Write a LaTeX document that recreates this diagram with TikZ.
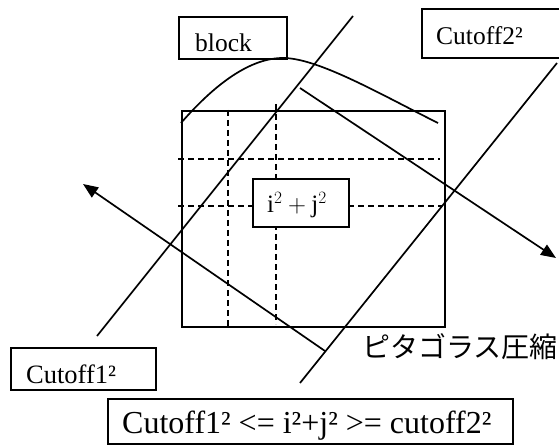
\documentclass[tikz,border=0pt]{standalone}
\usepackage{fontspec}
\setmainfont{Liberation Serif}
\newfontfamily\jpfont{Noto Sans CJK JP}
\usetikzlibrary{arrows.meta}
\tikzset{
  lab/.style={anchor=base west, inner sep=0pt, font=\fontsize{25.5}{28}\selectfont},
  boxd/.style={draw, line width=1.8pt, inner sep=0pt, anchor=north west},
  thin line/.style={line width=1.7pt},
  dsh/.style={line width=1.7pt, dash pattern=on 6pt off 4pt},
  arr/.style={line width=1.7pt, -{Triangle[length=15pt,width=12pt]}},
}
\begin{document}
\begin{tikzpicture}[x=1pt,y=-1pt]
\useasboundingbox (0,0) rectangle (559,446);
% main block rectangle
\node[boxd, line width=2pt, minimum width=263pt, minimum height=216pt] (blk) at (181,110) {};
% dashed grid
\coordinate (v1t) at (228,110); \coordinate (v1b) at (228,326);
\coordinate (v2t) at (276,104); \coordinate (v2b) at (276,324);
\coordinate (h1l) at (178,159); \coordinate (h1r) at (440,159);
\coordinate (h2l) at (178,206); \coordinate (h2r) at (442,206);
\draw[dsh] (v1t) -- (v1b);
\draw[dsh] (v2t) -- (v2b);
\draw[dsh] (h1l) -- (h1r);
\draw[dsh] (h2l) -- (h2r);
% i^2+j^2 box
\node[boxd, fill=white, minimum width=96pt, minimum height=48pt] (ij) at (252,178) {};
\node[anchor=base, inner sep=0pt, font=\fontsize{25}{28}\selectfont] (ijt) at (297,213) {$\mathrm{i}^2+\mathrm{j}^2$};
% bell curve
\coordinate (cl) at (181,123); \coordinate (cp) at (283,58); \coordinate (cr) at (438,123);
\draw[thin line] (cl) .. controls (215,84) and (250,58) .. (cp) .. controls (318,58) and (380,94) .. (cr);
% cutoff lines
\coordinate (c1a) at (97,336); \coordinate (c1b) at (353,16);
\coordinate (c2a) at (300,383); \coordinate (c2b) at (557,63);
\draw[thin line] (c1a) -- (c1b);
\draw[thin line] (c2a) -- (c2b);
% arrows
\coordinate (a1s) at (325,351); \coordinate (a1e) at (83,184);
\coordinate (a2s) at (300,88); \coordinate (a2e) at (556,258);
\draw[arr] (a1s) -- (a1e);
\draw[arr] (a2s) -- (a2e);
% label boxes
\node[boxd, minimum width=108pt, minimum height=42pt] (bb) at (178,16) {};
\node[lab] (bt) at (195,52) {block};
\node[boxd, minimum width=142pt, minimum height=49pt] (c2box) at (421,8) {};
\node[lab] (c2t) at (436,45) {Cutoff2²};
\node[boxd, minimum width=145pt, minimum height=42pt] (c1box) at (10,347) {};
\node[lab, font=\fontsize{26.5}{30}\selectfont] (c1t) at (26,383) {Cutoff1²};
\node[boxd, minimum width=405pt, minimum height=45pt] (fbox) at (107,398) {};
\node[anchor=base west, inner sep=0pt, font=\fontsize{32}{36}\selectfont] (ft) at (122,433) {Cutoff1² <= i²+j² >= cutoff2²};
% Japanese caption
\node[anchor=base west, inner sep=0pt, font=\jpfont\fontsize{28}{31}\selectfont] (jp) at (362,357) {ピタゴラス圧縮};
\end{tikzpicture}
\end{document}
